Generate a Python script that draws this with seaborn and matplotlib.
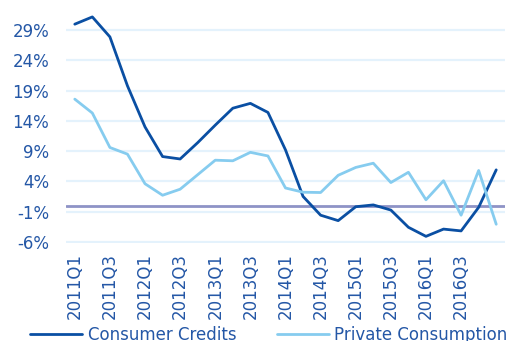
import matplotlib
matplotlib.use("Agg")
import matplotlib.pyplot as plt
import seaborn as sns
import pandas as pd

quarters = [f"{y}Q{q}" for y in range(2011, 2017) for q in range(1, 5)] + ["2017Q1"]
consumer_credits = [30.0, 31.2, 27.9, 19.8, 13.0, 8.1, 7.7, 10.4, 13.3, 16.1, 16.9, 15.4,
                    9.2, 1.5, -1.6, -2.5, -0.2, 0.1, -0.75, -3.6, -5.1, -3.9, -4.2, -0.3, 5.9]
private_consumption = [17.6, 15.3, 9.6, 8.5, 3.6, 1.7, 2.7, 5.1, 7.5, 7.4, 8.8, 8.2,
                       2.9, 2.2, 2.15, 5.0, 6.3, 7.0, 3.8, 5.5, 0.95, 4.1, -1.6, 5.8, -3.1]
series_names = ["Consumer Credits", "Private Consumption"]
y_ticks = [29, 24, 19, 14, 9, 4, -1, -6]

df = pd.DataFrame({
    "quarter": quarters * 2,
    "value": consumer_credits + private_consumption,
    "series": [series_names[0]] * len(quarters) + [series_names[1]] * len(quarters),
})

sns.set_style("white")
plt.rcParams["font.family"] = ["DejaVu Sans"]
text_color = "#2457a6"
fs = 12

fig = plt.figure(figsize=(5.09, 3.41), dpi=100)
ax = fig.add_axes([66 / 509, (341 - 243) / 341, (505 - 66) / 509, 243 / 341])

ax.axhline(0, color="#8e93c6", lw=2.0, zorder=1)
sns.lineplot(data=df, x="quarter", y="value", hue="series", sort=False,
             palette=["#0a4fa3", "#86ccef"], linewidth=2.0, ax=ax, zorder=3)

for t in y_ticks:
    ax.axhline(t, color="#e4f2fc", lw=1.6, zorder=0)

ax.set_ylim(-6.2, 34)
ax.set_xlim(-0.5, 24.5)
ax.set_yticks(y_ticks)
ax.set_yticklabels([f"{t}%" for t in y_ticks])
ax.set_xticks(range(0, 23, 2))
ax.set_xticklabels([quarters[i] for i in range(0, 23, 2)], rotation=90)
ax.tick_params(axis="both", length=0, labelsize=fs, labelcolor=text_color)
ax.tick_params(axis="y", pad=12)
ax.tick_params(axis="x", pad=7)
ax.set_xlabel("")
ax.set_ylabel("")
for s in ax.spines.values():
    s.set_visible(False)

handles, labels = ax.get_legend_handles_labels()
ax.get_legend().remove()
leg = fig.legend(handles, labels, loc="center left", bbox_to_anchor=(30 / 509, 6 / 341),
                 ncol=2, frameon=False, fontsize=fs, borderpad=0, borderaxespad=0,
                 handlelength=3.1, handletextpad=0.35, columnspacing=2.45)
for t in leg.get_texts():
    t.set_color(text_color)

fig.savefig("out.png", dpi=100)
